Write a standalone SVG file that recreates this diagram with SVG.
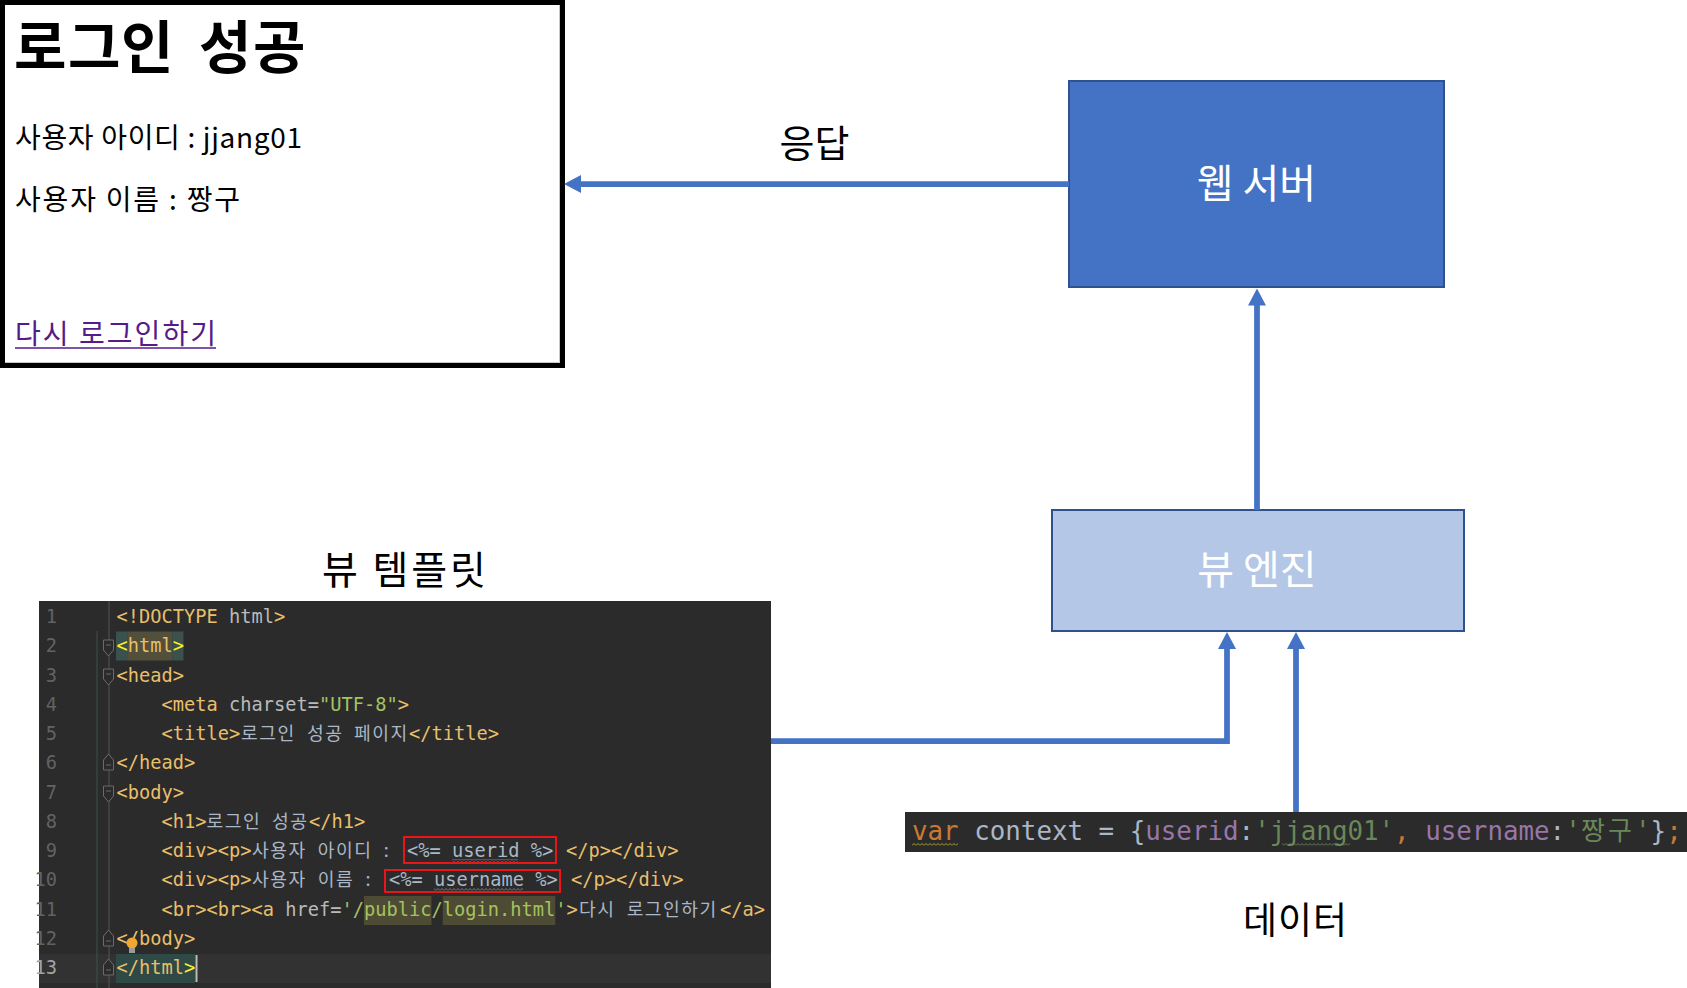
<svg xmlns="http://www.w3.org/2000/svg" width="1687" height="988" viewBox="0 0 1687 988">
<defs>
<style>
.kr{font-family:"Noto Sans CJK KR","Noto Sans",sans-serif}
.code{font-family:"DejaVu Sans Mono","Noto Sans CJK KR",monospace;font-size:18.7px}
.k{font-family:"Noto Sans CJK KR",sans-serif;font-size:18.2px}
.ln{fill:#606366;text-anchor:end}
.tag{fill:#E8BF6A}
.attr{fill:#BABABA}
.val{fill:#A5C261}
.txt{fill:#A9B7C6}
.brc{fill:#FFEF28}
.conn{stroke:#4472C4;stroke-width:5.75;fill:none;stroke-linejoin:miter}
.fold{fill:#2B2B2B;stroke:#6B6B6B;stroke-width:1}
.box{fill:none;stroke:#E8151B;stroke-width:2}
.dc{font-family:"DejaVu Sans Mono","Noto Sans CJK KR",monospace;font-size:25.83px}
</style>
<marker id="ah" markerUnits="userSpaceOnUse" markerWidth="18" markerHeight="18" refX="1" refY="9" orient="auto">
<path d="M0,0 L17,9 L0,18 z" fill="#4472C4"/>
</marker>
<g id="foldOpen"><path d="M0,0 h10 v10 l-5,6 l-5,-6 z"/><path d="M2.5,5 h5" fill="none"/></g>
<g id="foldClose"><path d="M0,16 h10 v-10 l-5,-6 l-5,6 z"/><path d="M2.5,11 h5" fill="none"/></g>
<pattern id="zzGray" width="4" height="3" patternUnits="userSpaceOnUse"><path d="M0,2.5 L2,0.5 L4,2.5" fill="none" stroke="#8F8F8F" stroke-width="0.8"/></pattern>
<pattern id="zzYel" width="4" height="3" patternUnits="userSpaceOnUse"><path d="M0,2.5 L2,0.5 L4,2.5" fill="none" stroke="#BBB529" stroke-width="0.9"/></pattern>
<pattern id="zzGrn" width="4" height="3" patternUnits="userSpaceOnUse"><path d="M0,2.5 L2,0.5 L4,2.5" fill="none" stroke="#6A8759" stroke-width="0.9"/></pattern>
</defs>
<rect width="1687" height="988" fill="#FFFFFF"/>

<g id="login-page">
<rect x="2.5" y="2.5" width="560" height="363" fill="#FFFFFF" stroke="#000000" stroke-width="5"/>
<path d="M559.5,5 V362.5 H5" fill="none" stroke="#C8C8C8" stroke-width="1"/>
<text class="kr" x="14 68 121 175 199 253" y="68" font-size="57" font-weight="700" fill="#000">로그인 성공</text>
<text class="kr" x="15" y="148" font-size="28" fill="#000" textLength="287" lengthAdjust="spacing">사용자 아이디 : jjang01</text>
<text class="kr" x="15" y="210" font-size="28" fill="#000" textLength="225" lengthAdjust="spacing">사용자 이름 : 짱구</text>
<text class="kr" x="15" y="344" font-size="28" fill="#551A8B" textLength="201" lengthAdjust="spacing">다시 로그인하기</text>
<line x1="15" y1="348" x2="216" y2="348" stroke="#551A8B" stroke-width="1.5"/>
</g>

<g id="web-server">
<rect x="1069" y="81" width="375" height="206" fill="#4472C4" stroke="#2F528F" stroke-width="2"/>
<text class="kr" x="1256.5" y="198" font-size="40" fill="#FFFFFF" text-anchor="middle">웹 서버</text>
</g>

<g id="view-engine">
<rect x="1052" y="510" width="412" height="121" fill="#B4C7E7" stroke="#2F528F" stroke-width="2"/>
<text class="kr" x="1257" y="584" font-size="40" fill="#FFFFFF" text-anchor="middle">뷰 엔진</text>
</g>

<g id="view-template">
<text class="kr" x="322" y="584" font-size="39" fill="#000" textLength="164" lengthAdjust="spacing">뷰 템플릿</text>
<rect x="39" y="601" width="732" height="387" fill="#2B2B2B"/>
<rect x="39" y="954" width="732" height="29" fill="#323232"/>
<line x1="109" y1="601" x2="109" y2="988" stroke="#555555" stroke-width="1"/>
<line x1="97" y1="631" x2="97" y2="988" stroke="#3E504C" stroke-width="1"/>
<g class="fold">
<use href="#foldOpen" x="103.5" y="640"/>
<use href="#foldOpen" x="103.5" y="669"/>
<use href="#foldClose" x="103.5" y="754"/>
<use href="#foldOpen" x="103.5" y="786"/>
<use href="#foldClose" x="103.5" y="930"/>
<use href="#foldClose" x="103.5" y="959"/>
</g>
<g class="code ln">
<text x="57" y="623">1</text>
<text x="57" y="652.25">2</text>
<text x="57" y="681.5">3</text>
<text x="57" y="710.75">4</text>
<text x="57" y="740">5</text>
<text x="57" y="769.25">6</text>
<text x="57" y="798.5">7</text>
<text x="57" y="827.75">8</text>
<text x="57" y="857">9</text>
<text x="57" y="886.25">10</text>
<text x="57" y="915.5">11</text>
<text x="57" y="944.75">12</text>
<text x="57" y="974" fill="#A4A3A3">13</text>
</g>
<rect x="116" y="631.5" width="11.25" height="29" fill="#3B514D"/>
<rect x="127.25" y="631.5" width="45" height="29" fill="#52503A"/>
<rect x="172.25" y="631.5" width="11.25" height="29" fill="#3B514D"/>
<rect x="364" y="896" width="67.5" height="29" fill="#4D4B33"/>
<rect x="442.75" y="896" width="112.5" height="29" fill="#4D4B33"/>
<rect x="116" y="954" width="79" height="29" fill="#2F4A46"/>
<g class="code" xml:space="preserve">
<text y="623"><tspan x="116.5" class="tag">&lt;!DOCTYPE</tspan><tspan class="attr"> html</tspan><tspan class="tag">&gt;</tspan></text>
<text y="652.25"><tspan x="116.5" class="brc">&lt;</tspan><tspan class="tag">html</tspan><tspan class="brc">&gt;</tspan></text>
<text y="681.5"><tspan x="116.5" class="tag">&lt;head&gt;</tspan></text>
<text y="710.75"><tspan x="161.5" class="tag">&lt;meta</tspan><tspan class="attr"> charset=</tspan><tspan class="val">"UTF-8"</tspan><tspan class="tag">&gt;</tspan></text>
<text y="740"><tspan x="161.5" class="tag">&lt;title&gt;</tspan><tspan x="241 259.2 277.4 295.6 307 325.2 343.4 354 372.2 390.4" class="txt k">로그인 성공 페이지</tspan><tspan x="409" class="tag">&lt;/title&gt;</tspan></text>
<text y="769.25"><tspan x="116.5" class="tag">&lt;/head&gt;</tspan></text>
<text y="798.5"><tspan x="116.5" class="tag">&lt;body&gt;</tspan></text>
<text y="827.75"><tspan x="161.5" class="tag">&lt;h1&gt;</tspan><tspan x="206.5 224.7 242.9 261.1 272 290.2" class="txt k">로그인 성공</tspan><tspan x="309" class="tag">&lt;/h1&gt;</tspan></text>
<text y="857"><tspan x="161.5" class="tag">&lt;div&gt;&lt;p&gt;</tspan><tspan x="252 270.2 288.4 306.6 317.85 336.05 354.25 372.45 383.7" class="txt k">사용자 아이디 :</tspan><tspan x="407" class="txt">&lt;%= userid %&gt;</tspan><tspan x="566" class="tag">&lt;/p&gt;&lt;/div&gt;</tspan></text>
<text y="886.25"><tspan x="161.5" class="tag">&lt;div&gt;&lt;p&gt;</tspan><tspan x="252 270.2 288.4 306.6 317.85 336.05 354.25 365.5" class="txt k">사용자 이름 :</tspan><tspan x="389" class="txt">&lt;%= username %&gt;</tspan><tspan x="571" class="tag">&lt;/p&gt;&lt;/div&gt;</tspan></text>
<text y="915.5"><tspan x="161.5" class="tag">&lt;br&gt;&lt;br&gt;&lt;a</tspan><tspan class="attr"> href=</tspan><tspan class="val">'/public/login.html'</tspan><tspan class="tag">&gt;</tspan><tspan x="579 597.2 615.4 626.65 644.85 663.05 681.25 699.45" class="txt k">다시 로그인하기</tspan><tspan x="720" class="tag">&lt;/a&gt;</tspan></text>
<text y="944.75"><tspan x="116.5" class="tag">&lt;/body&gt;</tspan></text>
<text y="974"><tspan x="116.5" class="tag">&lt;/html</tspan><tspan class="brc">&gt;</tspan></text>
</g>
<rect x="404" y="837" width="152" height="26" class="box"/>
<rect x="385" y="870" width="175" height="22" class="box"/>
<rect x="452" y="859" width="66" height="3" fill="url(#zzGray)"/>
<rect x="434" y="888" width="89" height="3" fill="url(#zzGray)"/>
<circle cx="132" cy="943" r="5.5" fill="#F0A732"/>
<rect x="129" y="948" width="6" height="5" fill="#9A9A9A"/>
<rect x="195.5" y="955" width="2" height="27" fill="#BBBBBB"/>
</g>

<g id="data">
<rect x="905" y="812" width="782" height="40" fill="#2B2B2B"/>
<text class="dc" y="840" xml:space="preserve"><tspan x="912" fill="#CC7832">var</tspan><tspan fill="#A9B7C6"> context = {</tspan><tspan fill="#9876AA">userid</tspan><tspan fill="#A9B7C6">:</tspan><tspan fill="#6A8759">'jjang01'</tspan><tspan fill="#CC7832">,</tspan><tspan fill="#9876AA"> username</tspan><tspan fill="#A9B7C6">:</tspan><tspan fill="#6A8759">'</tspan><tspan x="1581 1608" fill="#6A8759" font-family="Noto Sans CJK KR, sans-serif" font-size="26">짱구</tspan><tspan x="1635" fill="#6A8759">'</tspan><tspan fill="#A9B7C6">}</tspan><tspan fill="#CC7832">;</tspan></text>
<rect x="912" y="843" width="46" height="3" fill="url(#zzYel)"/>
<rect x="1282" y="843" width="68" height="3" fill="url(#zzGrn)"/>
<text class="kr" x="1243" y="934" font-size="37" fill="#000" textLength="104" lengthAdjust="spacing">데이터</text>
</g>

<g id="connectors">
<path class="conn" d="M1069,184 H580" marker-end="url(#ah)"/>
<text class="kr" x="814.5" y="157" font-size="38" fill="#000" text-anchor="middle">응답</text>
<path class="conn" d="M1257,510 V304.5" marker-end="url(#ah)"/>
<path class="conn" d="M771,741 H1227 V648" marker-end="url(#ah)"/>
<path class="conn" d="M1296,812 V648" marker-end="url(#ah)"/>
</g>
</svg>
